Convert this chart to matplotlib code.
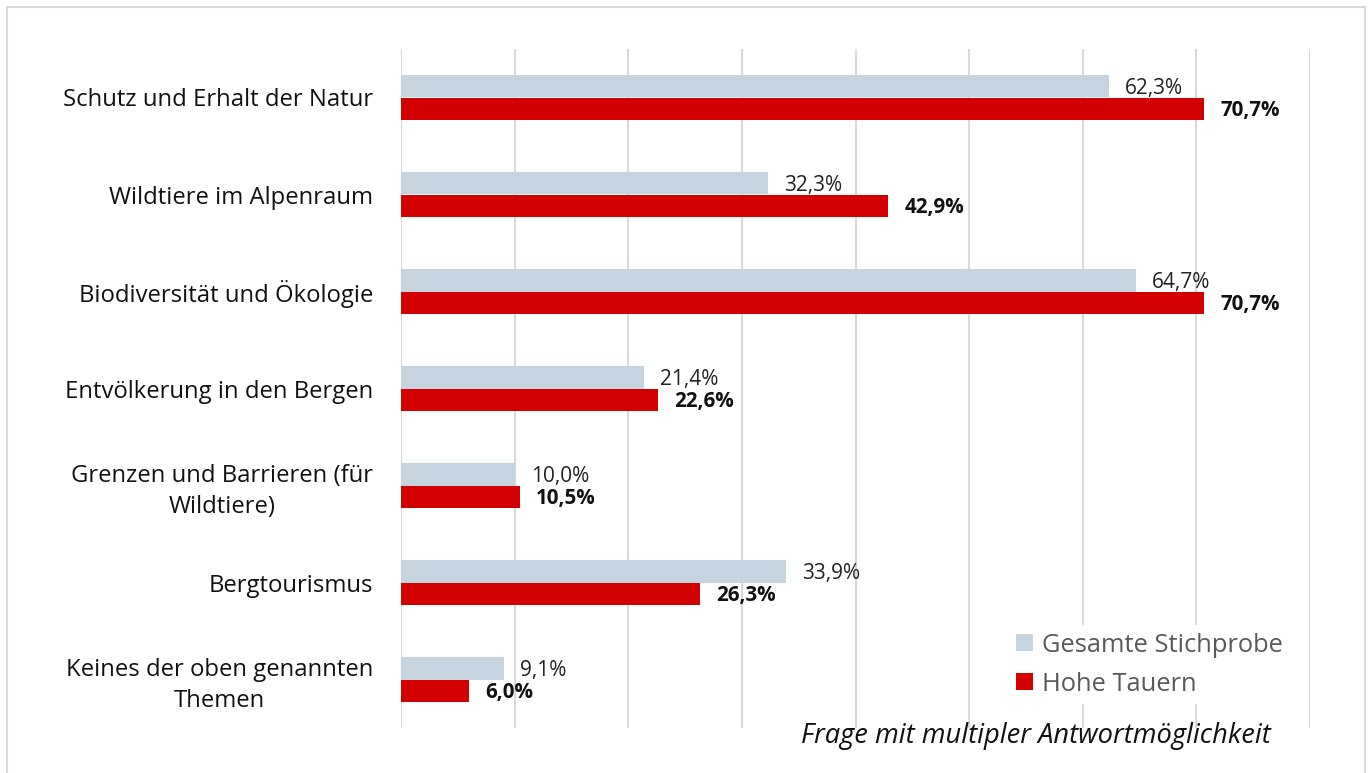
import matplotlib
matplotlib.use("Agg")
import matplotlib.pyplot as plt
from matplotlib.patches import Rectangle

categories = [
    "Schutz und Erhalt der Natur",
    "Wildtiere im Alpenraum",
    "Biodiversität und Ökologie",
    "Entvölkerung in den Bergen",
    "Grenzen und Barrieren (für\nWildtiere)",
    "Bergtourismus",
    "Keines der oben genannten\nThemen",
]
gesamt = [62.3, 32.3, 64.7, 21.4, 10.0, 33.9, 9.1]
hohe_tauern = [70.7, 42.9, 70.7, 22.6, 10.5, 26.3, 6.0]
series_names = ["Gesamte Stichprobe", "Hohe Tauern"]
footnote = "Frage mit multipler Antwortmöglichkeit"

GRAY = "#C5D4DE"
RED = "#D20000"
FONT = ["Open Sans", "DejaVu Sans"]
plt.rcParams["font.family"] = FONT

W, H = 1371, 773
fig = plt.figure(figsize=(W / 100, H / 100), dpi=100)
fig.patches.append(Rectangle((7 / W, -0.05), (1365 - 7) / W, (773 - 7) / H + 0.05,
                             transform=fig.transFigure, fill=False,
                             edgecolor="#D9D9D9", linewidth=1.5))

left, right, top, bottom = 401, 1310, 49, 728
ax = fig.add_axes([left / W, 1 - bottom / H, (right - left) / W, (bottom - top) / H])

n = len(categories)
ys = list(range(n))
bh = 0.237
ax.barh([y - bh / 2 for y in ys], gesamt, height=bh, color=GRAY, label=series_names[0], zorder=2)
ax.barh([y + bh / 2 for y in ys], hohe_tauern, height=bh, color=RED, label=series_names[1], zorder=2)

def fmt(v):
    return f"{v:.1f}%".replace(".", ",")

for y, g, h in zip(ys, gesamt, hohe_tauern):
    ax.annotate(fmt(g), (g, y - bh / 2), xytext=(16, -2), textcoords="offset pixels",
                ha="left", va="center", fontsize=15, color="#222222")
    ax.annotate(fmt(h), (h, y + bh / 2), xytext=(16, -2), textcoords="offset pixels",
                ha="left", va="center", fontsize=14.8, fontweight="bold", color="#111111")

ax.set_xlim(0, 80)
ax.set_ylim(n - 0.5, -0.5)
ax.set_xticks(range(0, 81, 10))
ax.xaxis.grid(True, color="#D9D9D9", linewidth=1.5, zorder=0)
ax.tick_params(axis="x", length=0, labelbottom=False)
ax.tick_params(axis="y", length=0, pad=20)
ax.set_yticks(ys)
ax.set_yticklabels(categories, fontsize=17.2, color="#111111", multialignment="center",
                   linespacing=1.35)
for s in ax.spines.values():
    s.set_visible(False)

leg = ax.legend(loc="lower right", bbox_to_anchor=(1303 / W, 1 - 717 / H),
                bbox_transform=fig.transFigure, frameon=True, facecolor="white",
                edgecolor="none", framealpha=1, fontsize=18.4, handlelength=0.65,
                handleheight=0.65, handletextpad=0.35, labelspacing=0.55, borderpad=0.3)
for t in leg.get_texts():
    t.set_color("#595959")

fig.text(1271 / W, 1 - 736 / H, footnote, ha="right", va="center",
         fontsize=19.6, style="italic", color="#111111")

fig.savefig("out.png", dpi=100)
